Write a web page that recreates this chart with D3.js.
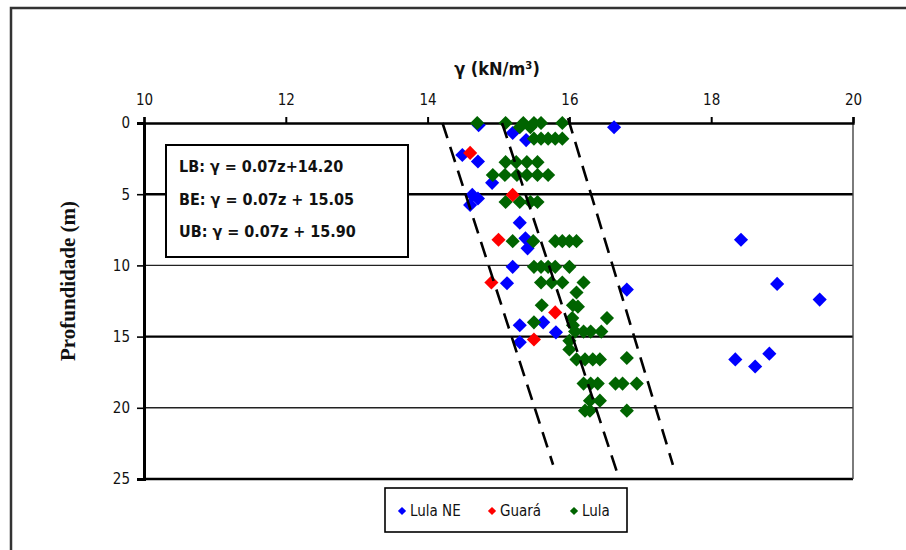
<!DOCTYPE html>
<html>
<head>
<meta charset="utf-8">
<script src="https://cdn.jsdelivr.net/npm/d3@7"></script>
<style>
  body { margin: 0; background: #fff; }
  svg { display: block; }
</style>
</head>
<body>
<svg id="chart"></svg>
<script>
// gamma (kN/m3) and depth (m)
const luneGamma = [16.63, 14.72, 15.2, 15.39, 14.49, 14.71, 14.91, 14.63, 14.71, 14.6, 15.3, 15.38, 15.41,
  15.2, 15.12, 16.81, 15.3, 15.63, 15.81, 15.3, 18.42, 18.93, 19.53, 18.34, 18.62, 18.82]
const luneDepth = [0.3, 0.15, 0.7, 1.2, 2.25, 2.7, 4.2, 5.05, 5.3, 5.75, 7.0, 8.1, 8.8,
  10.1, 11.25, 11.7, 14.2, 14.0, 14.7, 15.4, 8.2, 11.3, 12.4, 16.6, 17.1, 16.2]

const guaraGamma = [14.6, 15.2, 15.0, 14.9, 15.8, 15.5]
const guaraDepth = [2.1, 5.05, 8.2, 11.2, 13.3, 15.2]

const lulaGamma = [14.7, 15.1, 15.3, 15.45, 15.6, 15.9, 15.35, 15.5,
  15.5, 15.6, 15.7, 15.8, 15.9,
  15.1, 15.25, 15.4, 15.55,
  14.92, 15.09, 15.26, 15.4, 15.55, 15.7,
  15.1, 15.3, 15.45, 15.55,
  15.2, 15.49, 15.8, 15.9, 16.0, 16.1,
  15.5, 15.6, 15.7, 15.8, 16.0,
  15.6, 15.75, 15.9, 16.2,
  16.1, 15.61, 16.05, 16.12, 16.04, 16.53, 15.5, 16.05,
  16.08, 16.2, 16.3, 16.45, 16.0, 16.0,
  16.1, 16.22, 16.33, 16.43, 16.81,
  16.2, 16.3, 16.4, 16.65, 16.75, 16.95,
  16.29, 16.43,
  16.22, 16.29, 16.81]
const lulaDepth = [0, 0, 0.3, 0.3, 0, 0, 0, 0,
  1.1, 1.1, 1.1, 1.1, 1.1,
  2.75, 2.75, 2.75, 2.75,
  3.65, 3.65, 3.65, 3.65, 3.65, 3.65,
  5.55, 5.55, 5.55, 5.55,
  8.3, 8.3, 8.3, 8.3, 8.3, 8.3,
  10.1, 10.1, 10.1, 10.1, 10.1,
  11.2, 11.2, 11.2, 11.2,
  11.9, 12.8, 12.8, 12.9, 13.7, 13.7, 14.0, 14.2,
  14.65, 14.65, 14.65, 14.65, 15.3, 15.9,
  16.6, 16.6, 16.6, 16.6, 16.5,
  18.3, 18.3, 18.3, 18.3, 18.3, 18.3,
  19.5, 19.5,
  20.2, 20.2, 20.2]

// bound lines: end points
const boundNames = ["LB", "BE", "UB"]
const boundTopGamma = [14.21, 15.05, 15.98]
const boundTopDepth = [0, 0, -0.35]
const boundBotGamma = [15.77, 16.67, 17.46]
const boundBotDepth = [24.0, 24.5, 24.0]

const equations = ["LB: γ = 0.07z+14.20", "BE: γ = 0.07z + 15.05", "UB: γ = 0.07z + 15.90"]

const xTicks = [10, 12, 14, 16, 18, 20]
const yTicks = [0, 5, 10, 15, 20, 25]

const seriesNames = ["Lula NE", "Guará", "Lula"]
const seriesColors = ["#0000ff", "#ff0000", "#006400"]

const width = 906
const height = 550
const font = "'DejaVu Sans Condensed', 'DejaVu Sans', sans-serif"

const svg = d3.select("#chart").attr("width", width).attr("height", height)

// outer frame
svg.append("path")
  .attr("d", "M11,560 V8 H912")
  .attr("fill", "none")
  .attr("stroke", "#333")
  .attr("stroke-width", 2.5)

const x = d3.scaleLinear().domain([10, 20]).range([144, 853])
const y = d3.scaleLinear().domain([0, 25]).range([123, 479])

// horizontal grid lines
svg.append("g")
  .selectAll("line")
  .data(yTicks.slice(1))
  .join("line")
  .attr("x1", x(10))
  .attr("x2", x(20))
  .attr("y1", (d) => y(d))
  .attr("y2", (d) => y(d))
  .attr("stroke", (d) => (d % 10 === 5 ? "#000" : "#222"))
  .attr("stroke-width", (d) => (d % 10 === 5 ? 2.4 : 1.4))

// right border
svg.append("line")
  .attr("x1", x(20)).attr("x2", x(20))
  .attr("y1", y(0)).attr("y2", y(25))
  .attr("stroke", "#444")
  .attr("stroke-width", 1.4)

// top axis
const xAxis = svg.append("g")
  .attr("transform", `translate(0,${y(0)})`)
  .call(d3.axisTop(x).tickValues(xTicks).tickSize(6).tickPadding(12).tickFormat(d3.format("d")))
xAxis.select(".domain").attr("stroke", "#000").attr("stroke-width", 2.4)
xAxis.selectAll(".tick line").attr("stroke", "#000").attr("stroke-width", 2)
xAxis.selectAll("text")
  .attr("fill", "#111")
  .style("font-family", font)
  .style("font-size", "15px")

// left axis
const yAxis = svg.append("g")
  .attr("transform", `translate(${x(10)},0)`)
  .call(d3.axisLeft(y).tickValues(yTicks).tickSize(7).tickPadding(7))
yAxis.select(".domain").attr("stroke", "#000").attr("stroke-width", 3)
yAxis.selectAll(".tick line").attr("stroke", "#000").attr("stroke-width", 1.6)
yAxis.selectAll("text")
  .attr("fill", "#111")
  .style("font-family", font)
  .style("font-size", "15px")

// axis titles
svg.append("text")
  .attr("x", 497)
  .attr("y", 75)
  .attr("text-anchor", "middle")
  .attr("fill", "#111")
  .style("font-family", font)
  .style("font-size", "18px")
  .style("font-weight", "bold")
  .text("γ (kN/m³)")

svg.append("text")
  .attr("transform", "translate(75,281) rotate(-90)")
  .attr("text-anchor", "middle")
  .attr("fill", "#111")
  .style("font-family", "'Liberation Serif', 'DejaVu Serif', serif")
  .style("font-size", "21px")
  .style("font-weight", "bold")
  .text("Profundidade (m)")

// equation box
const eqBox = svg.append("g")
eqBox.append("rect")
  .attr("x", 166).attr("y", 145)
  .attr("width", 242).attr("height", 112)
  .attr("fill", "#fff")
  .attr("stroke", "#000")
  .attr("stroke-width", 2)
eqBox.selectAll("text")
  .data(equations)
  .join("text")
  .attr("x", 179)
  .attr("y", (d, i) => 172 + i * 32.5)
  .attr("fill", "#111")
  .style("font-family", font)
  .style("font-size", "16px")
  .style("font-weight", "bold")
  .text((d) => d)

// points
const diamond = d3.symbol(d3.symbolSquare, 100)
const series = [
  { gamma: luneGamma, depth: luneDepth, color: seriesColors[0] },
  { gamma: lulaGamma, depth: lulaDepth, color: seriesColors[2] },
  { gamma: guaraGamma, depth: guaraDepth, color: seriesColors[1] },
]
series.forEach((s) => {
  svg.append("g")
    .selectAll("path")
    .data(s.gamma.map((g, i) => ({ g, z: s.depth[i] })))
    .join("path")
    .attr("d", diamond)
    .attr("transform", (d) => `translate(${x(d.g)},${y(d.z)}) rotate(45)`)
    .attr("fill", s.color)
})

// bound lines
svg.append("g")
  .selectAll("line")
  .data(boundNames)
  .join("line")
  .attr("x1", (d, i) => x(boundTopGamma[i]))
  .attr("y1", (d, i) => y(boundTopDepth[i]))
  .attr("x2", (d, i) => x(boundBotGamma[i]))
  .attr("y2", (d, i) => y(boundBotDepth[i]))
  .attr("stroke", "#000")
  .attr("stroke-width", 2.6)
  .attr("stroke-dasharray", "16,9")

// legend
const legend = svg.append("g")
legend.append("rect")
  .attr("x", 385).attr("y", 488)
  .attr("width", 242).attr("height", 44)
  .attr("fill", "#fff")
  .attr("stroke", "#000")
  .attr("stroke-width", 1.6)
const legendX = [402, 492, 574]
seriesNames.forEach((name, i) => {
  legend.append("path")
    .attr("d", d3.symbol(d3.symbolSquare, 34))
    .attr("transform", `translate(${legendX[i]},511) rotate(45)`)
    .attr("fill", seriesColors[i])
  legend.append("text")
    .attr("x", legendX[i] + 8)
    .attr("y", 516)
    .attr("fill", "#111")
    .style("font-family", font)
    .style("font-size", "15px")
    .text(name)
})
</script>
</body>
</html>
